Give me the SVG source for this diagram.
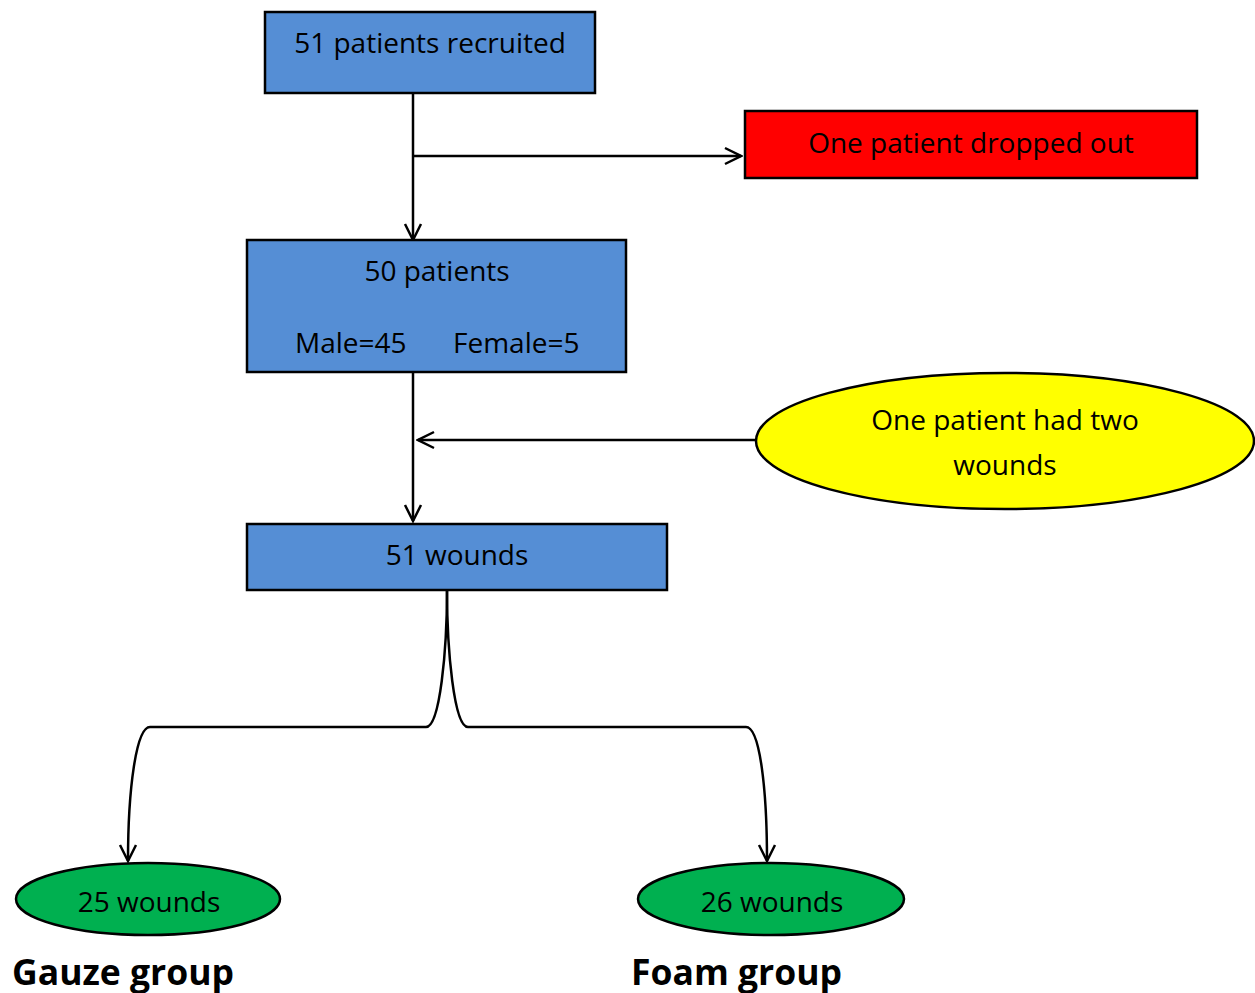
<svg xmlns="http://www.w3.org/2000/svg" width="1255" height="993" viewBox="0 0 1255 993">
<defs>
<style>
.t{font-family:"Open Sans","Liberation Sans",sans-serif;font-size:28px;fill:#000}
.b{font-family:"Open Sans","Liberation Sans",sans-serif;font-size:35.5px;font-weight:bold;fill:#000}
.box{fill:#558ED5;stroke:#000;stroke-width:2.5}
.c{fill:none;stroke:#000;stroke-width:2.5}
</style>
<marker id="arr" viewBox="0 0 20 20" refX="18" refY="10" markerWidth="20" markerHeight="20" markerUnits="userSpaceOnUse" orient="auto">
<path d="M2,2 L18,10 L2,18" fill="none" stroke="#000" stroke-width="2.5"/>
</marker>
</defs>
<rect width="1255" height="993" fill="#fff"/>
<g id="connectors">
<path class="c" d="M413,93 V240" marker-end="url(#arr)"/>
<path class="c" d="M413,156 H741" marker-end="url(#arr)"/>
<path class="c" d="M413,372 V521" marker-end="url(#arr)"/>
<path class="c" d="M756,440 H418" marker-end="url(#arr)"/>
<path class="c" d="M447,590 C447,650 440,727 426,727 H150 C136,727 128,790 128,861" marker-end="url(#arr)"/>
<path class="c" d="M447,590 C447,650 454,727 468,727 H746 C760,727 767,790 767,861" marker-end="url(#arr)"/>
</g>
<g id="n1">
<rect class="box" x="265" y="12" width="330" height="81"/>
<text class="t" x="430" y="53" text-anchor="middle">51 patients recruited</text>
</g>
<g id="n2">
<rect x="745" y="111" width="452" height="67" fill="#FF0000" stroke="#000" stroke-width="2.5"/>
<text class="t" x="971" y="153" text-anchor="middle">One patient dropped out</text>
</g>
<g id="n3">
<rect class="box" x="247" y="240" width="379" height="132"/>
<text class="t" x="437" y="281" text-anchor="middle">50 patients</text>
<text class="t" x="295" y="353">Male=45</text>
<text class="t" x="453" y="353">Female=5</text>
</g>
<g id="n4">
<ellipse cx="1005" cy="441" rx="249" ry="68" fill="#FFFF00" stroke="#000" stroke-width="2.5"/>
<text class="t" x="1005" y="430" text-anchor="middle">One patient had two</text>
<text class="t" x="1005" y="475" text-anchor="middle">wounds</text>
</g>
<g id="n5">
<rect class="box" x="247" y="524" width="420" height="66"/>
<text class="t" x="457" y="565" text-anchor="middle">51 wounds</text>
</g>
<g id="n6">
<ellipse cx="148" cy="899" rx="132" ry="36" fill="#00B050" stroke="#000" stroke-width="2.5"/>
<text class="t" x="149" y="912" text-anchor="middle">25 wounds</text>
</g>
<g id="n7">
<ellipse cx="771" cy="899" rx="133" ry="36" fill="#00B050" stroke="#000" stroke-width="2.5"/>
<text class="t" x="772" y="912" text-anchor="middle">26 wounds</text>
</g>
<g id="labels">
<text class="b" x="12" y="985">Gauze group</text>
<text class="b" x="631" y="985">Foam group</text>
</g>
</svg>
